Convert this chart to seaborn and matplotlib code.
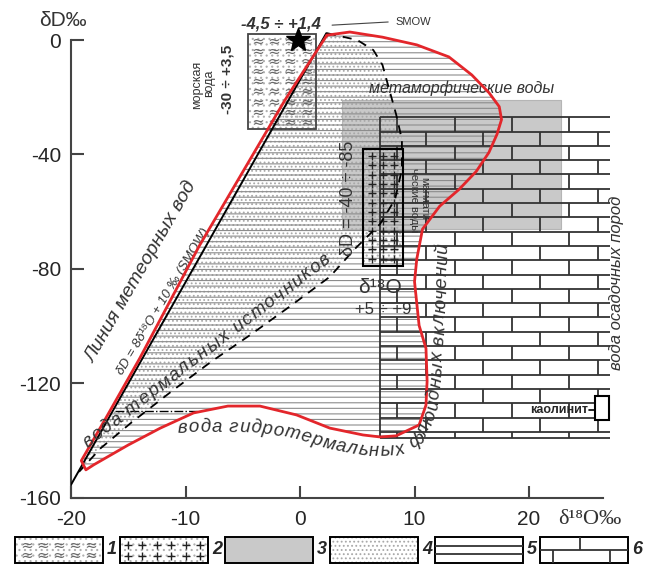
import numpy as np
import matplotlib
matplotlib.use('Agg')
import matplotlib.pyplot as plt
import seaborn as sns
from matplotlib.patches import Rectangle, Polygon
from matplotlib.font_manager import FontProperties

sns.set_style('ticks')
plt.rcParams['font.family'] = ['Liberation Sans', 'DejaVu Sans']
plt.rcParams['axes.unicode_minus'] = False
plt.rcParams['hatch.linewidth'] = 0.8

# ---- data (delta18O, deltaD, permil) ----
meteoric_x = [-20.0, 2.3]
meteoric_y = [-155.5, 2.4]

outline_x = [2.35, 4.35, 7.2, 10.2, 13.0, 15.0, 16.5, 17.4, 17.6, 17.2, 16.5, 15.4,
             13.9, 12.2, 10.7, 10.2, 10.0, 10.4, 11.0, 11.1, 11.0, 10.4, 8.4, 7.0,
             5.5, 2.6, -0.3, -3.5, -6.3, -9.3, -12.2, -15.0, -18.0, -18.7, -19.1,
             -16.8, -14.0, -8.8, -1.3, 2.35]
outline_y = [1.7, 2.8, 1.0, -1.7, -5.9, -12.2, -18.4, -23.3, -27.8, -33.0, -39.3, -45.9,
             -52.2, -58.1, -66.1, -76.5, -84.5, -99.8, -107.8, -119.3, -127.7, -134.6,
             -138.4, -138.8, -138.1, -135.7, -131.1, -128.0, -128.0, -130.4, -135.7,
             -141.6, -148.5, -150.3, -147.1, -131.1, -111.3, -72.0, -20.9, 1.7]

thermal_x = [2.35, 5.0, 6.4, 7.2, 7.8, 8.4, 8.9, 8.9, 8.3, 7.0, 4.8, 2.6, -0.9, -4.3,
             -7.8, -11.3, -14.8, -17.4, -19.3]
thermal_y = [2.4, 0.0, -3.5, -8.7, -17.4, -26.1, -34.8, -45.2, -55.7, -64.3, -73.0,
             -82.8, -93.2, -103.0, -112.6, -123.1, -134.0, -142.7, -151.0]

sea_x = [-4.5, 1.4]
sea_y = [-31.0, 2.0]
magma_x = [5.5, 9.0]
magma_y = [-79.0, -38.0]
meta_x = [3.7, 22.8]
meta_y = [-66.0, -21.0]
sed_x = [7.0, 27.1]
sed_y = [-139.0, -27.0]
kaolin_x = [25.8, 27.0]
kaolin_y = [-133.0, -124.5]
smow = (-0.2, 0.0)

xticks = [-20, -10, 0, 10, 20]
yticks = [0, -40, -80, -120, -160]
legend_labels = ['1', '2', '3', '4', '5', '6']

RED = '#e3262b'
GRAY = '#c9c9c9'
INK = '#333333'
WAVE = r'$\approx$'

fig = plt.figure(figsize=(6.45, 5.73), dpi=100)

# pixel overlay for the legend row
lax = fig.add_axes([0, 0, 1, 1])
lax.set_xlim(0, 645)
lax.set_ylim(573, 0)
lax.set_axis_off()

ax = fig.add_axes([0.1101, 0.1316, 0.8521, 0.8335])
ax.set_xlim(-20, 28)
ax.set_ylim(-160, 7)
ax.patch.set_alpha(0)

# metamorphic water (3)
ax.add_patch(Rectangle((meta_x[0], meta_y[0]), meta_x[1] - meta_x[0], meta_y[1] - meta_y[0],
                       facecolor=GRAY, edgecolor='#b5b5b5', lw=0.8, zorder=1))

# thermal spring water (4): dots between meteoric line and dashed curve
ax.add_patch(Polygon(np.column_stack([thermal_x, thermal_y]), closed=True,
                     facecolor='none', edgecolor='#a8a8a8', hatch='....', lw=0, zorder=2))

# fluid inclusions (5): horizontal lines inside the red outline
ax.add_patch(Polygon(np.column_stack([outline_x, outline_y]), closed=True,
                     facecolor='none', edgecolor='#8c8c8c', hatch='---', lw=0, zorder=2))

# sedimentary rock water (6): bricks
rows = np.append(np.arange(sed_y[1], sed_y[0] + 1, -5.0), sed_y[0])
ax.hlines(rows, sed_x[0], sed_x[1], color=INK, lw=1.3, zorder=4)
ax.vlines(sed_x[0], sed_y[0], sed_y[1], color=INK, lw=1.3, zorder=4)
for i, (top, bot) in enumerate(zip(rows[:-1], rows[1:])):
    start = 8.5 if i % 2 == 0 else 6.0
    xs = np.arange(start, sed_x[1], 5.0)
    xs = xs[xs > sed_x[0] + 0.3]
    ax.vlines(xs, bot, top, color=INK, lw=1.3, zorder=4)

# sea water (1)
ax.add_patch(Rectangle((sea_x[0], sea_y[0]), sea_x[1] - sea_x[0], sea_y[1] - sea_y[0],
                       facecolor='none', edgecolor='#b0b0b0', hatch='...', lw=0, zorder=3))
ax.add_patch(Rectangle((sea_x[0], sea_y[0]), sea_x[1] - sea_x[0], sea_y[1] - sea_y[0],
                       facecolor='none', edgecolor='#444444', lw=1.3, zorder=5))
wx, wy = np.meshgrid(np.linspace(sea_x[0] + 0.8, sea_x[1] - 0.8, 4),
                     np.linspace(sea_y[0] + 2.5, sea_y[1] - 2.5, 9))
sns.scatterplot(x=wx.ravel(), y=wy.ravel(), marker=WAVE, s=45, color='#6a6a6a',
                linewidth=0, ax=ax, zorder=3, legend=False)

# magmatic water (2)
ax.add_patch(Rectangle((magma_x[0], magma_y[0]), magma_x[1] - magma_x[0], magma_y[1] - magma_y[0],
                       facecolor='none', edgecolor='#b0b0b0', hatch='...', lw=0, zorder=3))
ax.add_patch(Rectangle((magma_x[0], magma_y[0]), magma_x[1] - magma_x[0], magma_y[1] - magma_y[0],
                       facecolor='none', edgecolor='black', lw=1.5, zorder=5))
cx, cy = np.meshgrid(np.linspace(magma_x[0] + 0.8, magma_x[1] - 0.8, 3),
                     np.linspace(magma_y[0] + 2.5, magma_y[1] - 2.5, 12))
sns.scatterplot(x=cx.ravel(), y=cy.ravel(), marker='+', s=30, color='#222222',
                linewidth=1.0, ax=ax, zorder=5, legend=False)

# lines
sns.lineplot(x=thermal_x, y=thermal_y, sort=False, estimator=None, color='black',
             lw=1.3, dashes=(5, 4), ax=ax, zorder=6)
ax.plot([-16.2, -9.0], [-129.8, -129.8], color='black', lw=1.0, ls='-.', zorder=6)
sns.lineplot(x=meteoric_x, y=meteoric_y, sort=False, estimator=None, color='black',
             lw=1.4, ax=ax, zorder=6)
sns.lineplot(x=outline_x, y=outline_y, sort=False, estimator=None, color=RED,
             lw=2.0, ax=ax, zorder=7)
ax.plot([2.8, 7.7], [5.2, 6.3], color='#444444', lw=0.8, zorder=7)
ax.plot(*smow, marker='*', ms=18, color='black', zorder=8)

# kaolinite
ax.add_patch(Rectangle((kaolin_x[0], kaolin_y[0]), kaolin_x[1] - kaolin_x[0],
                       kaolin_y[1] - kaolin_y[0], facecolor='white', edgecolor='black',
                       lw=1.5, zorder=8))
ax.plot([25.2, kaolin_x[0]], [-129.5, -129.5], color='black', lw=1.2, zorder=8)
ax.text(25.2, -129.5, 'каолинит', fontsize=9, weight='bold', ha='right', va='center', zorder=8)

# axes styling
sns.despine(ax=ax)
ax.spines['left'].set_bounds(-160, 0)
ax.spines['bottom'].set_bounds(-20, 26.5)
for s in ('left', 'bottom'):
    ax.spines[s].set_color('#444444')
    ax.spines[s].set_linewidth(1.5)
ax.set_xticks(xticks)
ax.set_yticks(yticks)
ax.set_xticklabels([str(v) for v in xticks])
ax.set_yticklabels([str(v) for v in yticks])
ax.tick_params(direction='in', length=9, width=1.5, color='#444444', labelsize=15, pad=7)
ax.tick_params(axis='x', pad=9)


def text_along(s, px, py, size):
    fp = FontProperties(family='Liberation Sans', style='italic', size=size)
    r = fig.canvas.get_renderer()
    base = r.get_text_width_height_descent('xx', fp, ismath=False)[0]
    ws = np.array([r.get_text_width_height_descent('x' + c + 'x', fp, ismath=False)[0] - base
                   for c in s])
    pts = ax.transData.transform(np.column_stack([px, py]))
    d = np.hypot(*np.diff(pts, axis=0).T)
    cum = np.concatenate([[0], np.cumsum(d)])
    gap = (cum[-1] - ws.sum()) / (len(s) - 1)
    pos = np.concatenate([[0], np.cumsum(ws + gap)[:-1]]) + ws / 2
    inv = ax.transData.inverted()
    for c, p in zip(s, pos):
        x0 = np.interp(p, cum, pts[:, 0]); y0 = np.interp(p, cum, pts[:, 1])
        xa = np.interp(p - 6, cum, pts[:, 0]); ya = np.interp(p - 6, cum, pts[:, 1])
        xb = np.interp(p + 6, cum, pts[:, 0]); yb = np.interp(p + 6, cum, pts[:, 1])
        ang = np.degrees(np.arctan2(yb - ya, xb - xa))
        dx, dy = inv.transform((x0, y0))
        ax.text(dx, dy, c, rotation=ang, rotation_mode='anchor', ha='center', va='center',
                fontproperties=fp, color=INK, zorder=8)


# labels
it = dict(style='italic', color=INK)
ax.text(-13.9, -81.1, 'Линия метеорных вод', rotation=60, fontsize=14,
        ha='center', va='center', **it)
ax.text(-12.0, -91.5, 'δD = 8δ¹⁸O + 10 ‰ (SMOW)', rotation=59, fontsize=9.5,
        ha='center', va='center', **it)
text_along('вода термальных источников', [-18.8, 2.5], [-141.5, -76.0], 13.5)
ax.text(14.15, -16.8, 'метаморфические воды', fontsize=11.5, ha='center', va='center', **it)
ax.text(27.6, -85.0, 'вода осадочных пород', rotation=90, fontsize=12,
        ha='center', va='center', clip_on=False, **it)
ax.text(-9.0, -15.7, 'морская', rotation=90, fontsize=9, ha='center', va='center', color=INK)
ax.text(-7.95, -15.0, 'вода', rotation=90, fontsize=9, ha='center', va='center', color=INK)
ax.text(-6.3, -13.6, '-30 ÷ +3,5', rotation=90, fontsize=11, weight='bold',
        ha='center', va='center', color=INK)
ax.text(-1.7, 5.6, '-4,5 ÷ +1,4', fontsize=12, weight='bold', style='italic',
        ha='center', va='center', color=INK)
ax.text(8.3, 6.3, 'SMOW', fontsize=8, ha='left', va='center', color=INK)
ax.text(4.2, -55.2, 'δD = -40 ÷ -85', rotation=90, fontsize=13, ha='center', va='center',
        color=INK, zorder=8)
ax.text(10.4, -56.0, 'магмати-\nческие воды', rotation=-90, fontsize=8, ha='center',
        va='center', color=INK, linespacing=1.0, zorder=8)
ax.text(7.0, -86.7, 'δ¹⁸O', fontsize=15, ha='center', va='center', color=INK, zorder=8)
ax.text(7.25, -94.4, '+5 ÷ +9', fontsize=12, ha='center', va='center', color=INK, zorder=8)

text_along('вода гидротермальных флюидных включений',
           [-10.66, -7.16, -3.93, -0.87, 2.62, 6.11, 8.73, 10.66, 11.62, 12.05, 12.31, 12.49],
           [-135.7, -135.3, -135.7, -137.4, -141.3, -144.1, -143.4, -139.2, -129.4, -115.4,
            -97.9, -71.0], 13.5)

fig.text(63 / 645, 1 - 20 / 573, 'δD‰', fontsize=15, ha='center', va='center', color=INK)
fig.text(590 / 645, 1 - 520 / 573, 'δ¹⁸O‰', fontsize=16, ha='center', va='center',
         family=['Liberation Serif', 'DejaVu Serif'], color=INK)

# legend row
top, h, w = 537, 26, 88
for i, lab in enumerate(legend_labels):
    L = 15 + 105 * i
    if i == 0:
        lax.add_patch(Rectangle((L, top), w, h, facecolor='none', edgecolor='#b0b0b0',
                                hatch='...', lw=0))
        gx, gy = np.meshgrid(np.linspace(L + 12, L + w - 12, 5), [top + 8, top + 18])
        lax.scatter(gx.ravel(), gy.ravel(), marker=WAVE, s=45, color='#6a6a6a', linewidth=0)
    elif i == 1:
        lax.add_patch(Rectangle((L, top), w, h, facecolor='none', edgecolor='#b0b0b0',
                                hatch='...', lw=0))
        gx, gy = np.meshgrid(np.linspace(L + 8, L + w - 8, 6), [top + 8, top + 19])
        lax.scatter(gx.ravel(), gy.ravel(), marker='+', s=30, color='#222222', linewidth=1.0)
    elif i == 2:
        lax.add_patch(Rectangle((L, top), w, h, facecolor=GRAY, lw=0))
    elif i == 3:
        lax.add_patch(Rectangle((L, top), w, h, facecolor='none', edgecolor='#a8a8a8',
                                hatch='....', lw=0))
    elif i == 4:
        lax.hlines([top + h / 3, top + 2 * h / 3], L, L + w, color=INK, lw=1.3)
    else:
        lax.hlines(top + h / 2, L, L + w, color=INK, lw=1.3)
        lax.vlines(L + 0.45 * w, top, top + h / 2, color=INK, lw=1.3)
        lax.vlines([L + 0.15 * w, L + 0.8 * w], top + h / 2, top + h, color=INK, lw=1.3)
    lax.add_patch(Rectangle((L, top), w, h, facecolor='none', edgecolor='black', lw=1.4))
    lax.text(L + w + 9, top + h / 2, lab, fontsize=13, style='italic', weight='bold',
             ha='center', va='center')

fig.savefig('out.png', dpi=100)
